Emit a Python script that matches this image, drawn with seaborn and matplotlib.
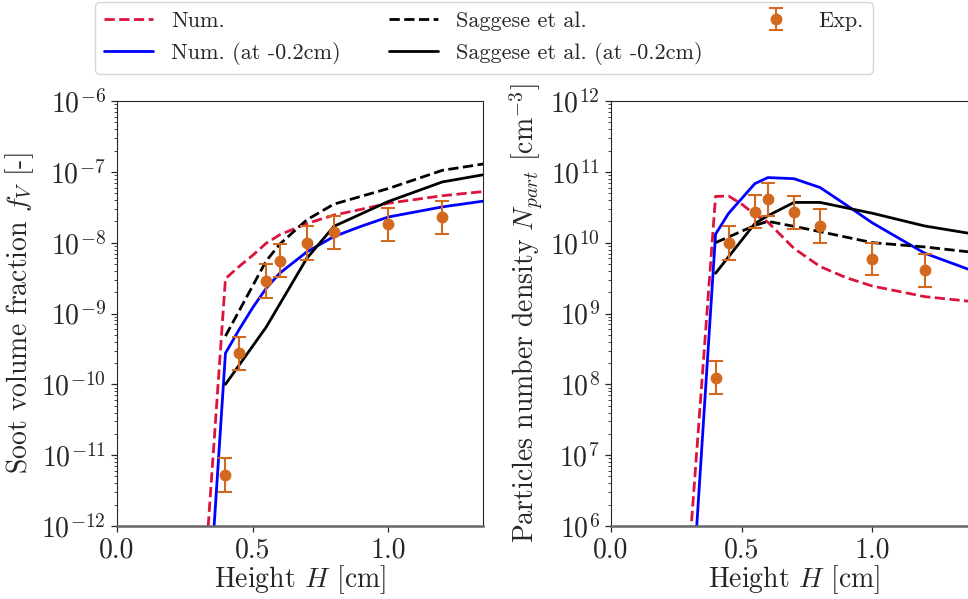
import numpy as np
import matplotlib
matplotlib.use("Agg")
import matplotlib.pyplot as plt
import matplotlib.ticker as mticker
import seaborn as sns

# heights [cm]
h_num = [0.3, 0.4, 0.45, 0.5, 0.55, 0.6, 0.7, 0.8, 0.9, 1.0, 1.2, 1.4]
h_sag = [0.4, 0.55, 0.6, 0.7, 0.8, 1.0, 1.2, 1.4]
h_exp = [0.4, 0.45, 0.55, 0.6, 0.7, 0.8, 1.0, 1.2]

# soot volume fraction
fv_num = [1e-14, 3.1e-9, 4.6e-9, 6.6e-9, 9.8e-9, 1.29e-8, 1.86e-8, 2.45e-8, 2.95e-8, 3.6e-8, 4.6e-8, 5.5e-8]
fv_num_shift = [4e-16, 2.75e-10, 5.9e-10, 1.2e-9, 2.26e-9, 3.7e-9, 7.4e-9, 1.22e-8, 1.7e-8, 2.3e-8, 3.2e-8, 4.1e-8]
fv_sag = [4.8e-10, 5.5e-9, 9.5e-9, 2.1e-8, 3.5e-8, 5.8e-8, 1.05e-7, 1.38e-7]
fv_sag_shift = [1.0e-10, 6.4e-10, 1.35e-9, 6e-9, 1.7e-8, 3.8e-8, 7.2e-8, 9.8e-8]
fv_exp = [5.3e-12, 2.76e-10, 2.9e-9, 5.6e-9, 9.8e-9, 1.41e-8, 1.82e-8, 2.28e-8]
fv_lo = [3.05e-12, 1.58e-10, 1.66e-9, 3.3e-9, 5.7e-9, 8.1e-9, 1.05e-8, 1.32e-8]
fv_hi = [9.1e-12, 4.7e-10, 5.0e-9, 9.6e-9, 1.7e-8, 2.4e-8, 3.1e-8, 3.9e-8]

# particle number density
np_num = [4.5e5, 4.5e10, 4.55e10, 3.5e10, 2.5e10, 1.95e10, 8.3e9, 4.6e9, 3.2e9, 2.44e9, 1.73e9, 1.45e9]
np_num_shift = [2.5e4, 1.32e10, 2.6e10, 4.2e10, 6.8e10, 8.3e10, 8.0e10, 6.0e10, 3.4e10, 1.9e10, 7.1e9, 3.8e9]
np_sag = [1.0e10, 1.75e10, 2.0e10, 1.7e10, 1.43e10, 1.0e10, 8.7e9, 7.2e9]
np_sag_shift = [3.7e9, 1.86e10, 2.4e10, 3.7e10, 3.7e10, 2.6e10, 1.72e10, 1.3e10]
np_exp = [1.24e8, 9.9e9, 2.75e10, 4.1e10, 2.7e10, 1.72e10, 5.9e9, 4.1e9]
np_lo = [7.2e7, 5.7e9, 1.59e10, 2.35e10, 1.58e10, 1.0e10, 3.46e9, 2.4e9]
np_hi = [2.14e8, 1.72e10, 4.7e10, 6.9e10, 4.6e10, 2.95e10, 1.0e10, 7.0e9]

sns.set_style("ticks")
plt.rcParams['font.family'] = 'serif'
plt.rcParams['font.serif'] = ['cmr10']
plt.rcParams['mathtext.fontset'] = 'cm'
plt.rcParams['axes.formatter.use_mathtext'] = True
plt.rcParams['axes.unicode_minus'] = True

RED = '#DC143C'
BLUE = '#0000FF'
ORANGE = '#D2691E'
LW = 2.0

fig = plt.figure(figsize=(9.68, 5.99), dpi=100)
ax1 = fig.add_axes([117/968, 73/599, 366/968, 425/599])
ax2 = fig.add_axes([611/968, 73/599, 366/968, 425/599])


def draw(ax, num, num_s, sag, sag_s, exp, lo, hi):
    sns.lineplot(x=h_num, y=num, ax=ax, color=RED, linestyle='--', lw=LW, label='Num.')
    sns.lineplot(x=h_num, y=num_s, ax=ax, color=BLUE, lw=LW, label='Num. (at -0.2cm)')
    sns.lineplot(x=h_sag, y=sag, ax=ax, color='black', linestyle='--', lw=LW, label='Saggese et al.')
    sns.lineplot(x=h_sag, y=sag_s, ax=ax, color='black', lw=LW, label='Saggese et al. (at -0.2cm)')
    exp = np.array(exp)
    yerr = [exp - np.array(lo), np.array(hi) - exp]
    ax.errorbar(h_exp, exp, yerr=yerr, fmt='o', color=ORANGE, ms=7.5, capsize=5,
                elinewidth=1.5, capthick=1.5, label='Exp.')
    ax.set_yscale('log')
    ax.yaxis.set_major_locator(mticker.LogLocator(base=10, numticks=20))
    ax.yaxis.set_minor_locator(mticker.LogLocator(base=10, subs=np.arange(2, 10), numticks=100))
    ax.yaxis.set_minor_formatter(mticker.NullFormatter())
    ax.set_xlim(0, 1.35 if ax is ax1 else 1.4)
    ax.set_xticks([0.0, 0.5, 1.0])
    ax.set_xticklabels(['0.0', '0.5', '1.0'])
    ax.tick_params(labelsize=20)
    ax.tick_params(axis='y', which='major', length=4.5, width=0.9)
    ax.tick_params(axis='y', which='minor', length=2.5, width=0.6)
    ax.tick_params(axis='x', which='major', length=4.5, width=0.9)
    ax.set_xlabel('Height $H$ [cm]', fontsize=20, labelpad=0)
    ax.spines['bottom'].set_color('0.4')
    ax.spines['bottom'].set_linewidth(1.8)
    ax.get_legend().remove()


draw(ax1, fv_num, fv_num_shift, fv_sag, fv_sag_shift, fv_exp, fv_lo, fv_hi)
ax1.set_ylim(1e-12, 1e-6)
ax1.set_ylabel('Soot volume fraction $f_V$ [-]', fontsize=20)

draw(ax2, np_num, np_num_shift, np_sag, np_sag_shift, np_exp, np_lo, np_hi)
ax2.set_ylim(1e6, 1e12)
ax2.set_ylabel('Particles number density $N_{part}$ [cm$^{-3}$]', fontsize=20)

handles, labels = ax1.get_legend_handles_labels()
fig.legend(handles, labels, loc='upper center', bbox_to_anchor=(0.5, 1.0), ncol=3,
           fontsize=16, columnspacing=2.2, handlelength=2.2, borderaxespad=0.1)

fig.savefig('out.png', dpi=100)
